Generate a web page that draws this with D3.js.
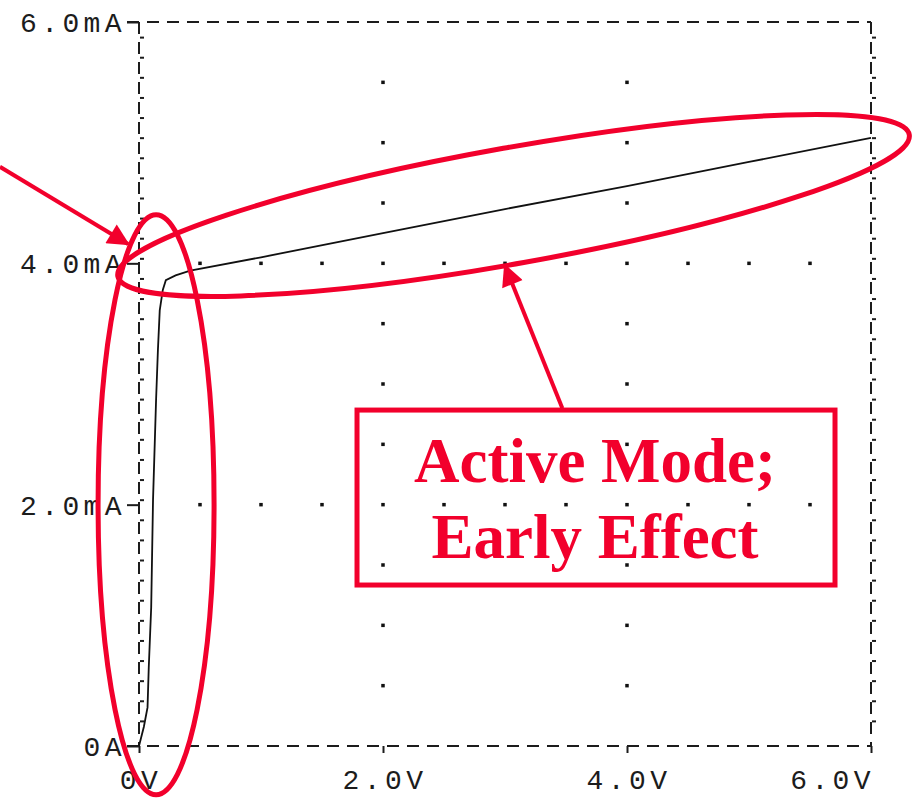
<!DOCTYPE html>
<html>
<head>
<meta charset="utf-8">
<script src="https://cdn.jsdelivr.net/npm/d3@7"></script>
<style>
  body { margin: 0; background: #fff; }
  .lbl { font-family: "Liberation Mono", "DejaVu Sans Mono", monospace; font-size: 28px; fill: #1c1c1c; letter-spacing: 4.4px; }
  .note { font-family: "Liberation Serif", "Times New Roman", serif; font-weight: bold; font-size: 63px; fill: #f2002c; }
</style>
</head>
<body>
<svg id="chart"></svg>
<script>
// transistor output curve, Ic (mA) vs Vce (V)
const vce = [0, 0.04, 0.07, 0.08, 0.10, 0.115, 0.14, 0.155, 0.17, 0.195, 0.22, 0.30, 0.42, 1.0, 2.0, 3.0, 4.0, 5.0, 6.0];
const ic  = [0, 0.16, 0.32, 0.65, 1.15, 2.04, 2.87, 3.28, 3.61, 3.78, 3.86, 3.90, 3.94, 4.05, 4.25, 4.45, 4.64, 4.84, 5.04];

const xTicks = [0, 2, 4, 6];
const xTickLabels = ["0V", "2.0V", "4.0V", "6.0V"];
const yTicks = [0, 2, 4, 6];
const yTickLabels = ["0A", "2.0mA", "4.0mA", "6.0mA"];

const noteLines = ["Active Mode;", "Early Effect"];

const W = 913, H = 798;
const red = "#f2002c";

const svg = d3.select("#chart").attr("width", W).attr("height", H);

const x = d3.scaleLinear().domain([0, 6]).range([139, 871]);
const y = d3.scaleLinear().domain([0, 6]).range([746, 22]);

// dotted grid: dots along the inner major lines
const dots = [];
[2, 4].forEach(v => d3.range(0.5, 6, 0.5).forEach(i => dots.push([v, i])));
[2, 4].forEach(i => d3.range(0.5, 6, 0.5).forEach(v => { if (v !== 2 && v !== 4) dots.push([v, i]); }));
svg.append("g").selectAll("rect").data(dots).join("rect")
  .attr("x", d => x(d[0]) - 1.75).attr("y", d => y(d[1]) - 1.75)
  .attr("width", 3.5).attr("height", 3.5).attr("fill", "#111");

// dashed frame
const frame = svg.append("g").attr("stroke", "#1c1c1c").attr("stroke-width", 2).attr("fill", "none");
frame.append("line").attr("x1", 127).attr("x2", x(6)).attr("y1", y(6)).attr("y2", y(6)).attr("stroke-dasharray", "12,8");
frame.append("line").attr("x1", 127).attr("x2", x(6)).attr("y1", y(0)).attr("y2", y(0)).attr("stroke-dasharray", "12,8");
frame.append("line").attr("x1", x(0)).attr("x2", x(0)).attr("y1", y(6)).attr("y2", y(0)).attr("stroke-dasharray", "12,8");
frame.append("line").attr("x1", x(6)).attr("x2", x(6)).attr("y1", y(6)).attr("y2", y(0)).attr("stroke-dasharray", "12,8");

// minor nubs on the vertical axes
const minor = d3.range(1, 36).map(i => i / 6);
[0, 6].forEach(v => {
  svg.append("g").attr("transform", `translate(${x(v)},0)`)
    .call(d3.axisRight(y).tickValues(minor).tickSize(4).tickFormat(""))
    .call(g => g.select(".domain").remove())
    .call(g => g.selectAll(".tick line").attr("stroke", "#1c1c1c").attr("stroke-width", 2).attr("transform", "translate(1,-5)"));
});

// major ticks
svg.append("g").attr("transform", `translate(${x(0)},0)`)
  .call(d3.axisLeft(y).tickValues(yTicks).tickSize(12).tickFormat(""))
  .call(g => g.select(".domain").remove())
  .call(g => g.selectAll(".tick line").attr("stroke", "#1c1c1c").attr("stroke-width", 2));
svg.append("g").attr("transform", `translate(0,${y(0)})`)
  .call(d3.axisBottom(x).tickValues(xTicks).tickSize(7).tickFormat(""))
  .call(g => g.select(".domain").remove())
  .call(g => g.selectAll(".tick line").attr("stroke", "#1c1c1c").attr("stroke-width", 2));

// tick labels
svg.append("g").selectAll("text").data(yTicks).join("text")
  .attr("class", "lbl").attr("x", 126).attr("y", d => y(d) + 10)
  .attr("text-anchor", "end").text((d, i) => yTickLabels[i]);
svg.append("g").selectAll("text").data(xTicks).join("text")
  .attr("class", "lbl").attr("x", d => d === 6 ? x(d) + 4 : x(d) + 2).attr("y", 789)
  .attr("text-anchor", d => d === 6 ? "end" : "middle").text((d, i) => xTickLabels[i]);

// curve
const pts = vce.map((v, i) => [v, ic[i]]);
svg.append("path").datum(pts)
  .attr("fill", "none").attr("stroke", "#111").attr("stroke-width", 1.8)
  .attr("d", d3.line().x(d => x(d[0])).y(d => y(d[1])));

// annotations
svg.append("defs").append("marker")
  .attr("id", "head").attr("viewBox", "0 0 10 10").attr("refX", 9).attr("refY", 5)
  .attr("markerWidth", 6).attr("markerHeight", 5.5).attr("markerUnits", "strokeWidth").attr("orient", "auto")
  .append("path").attr("d", "M0,0 L10,5 L0,10 Z").attr("fill", red);

const ann = svg.append("g").attr("fill", "none").attr("stroke", red);

// saturation region ellipse
ann.append("ellipse").attr("cx", x(0.14)).attr("cy", y(2.0)).attr("rx", 58).attr("ry", 290).attr("stroke-width", 5);

// active region ellipse
const ecx = x(3.07), ecy = y(4.48);
ann.append("ellipse").attr("cx", 0).attr("cy", 0).attr("rx", 402).attr("ry", 58).attr("stroke-width", 5)
  .attr("transform", `translate(${ecx},${ecy}) rotate(-10.15)`);

// arrows
ann.append("line").attr("x1", x(-1.14)).attr("y1", y(4.80)).attr("x2", x(-0.09)).attr("y2", y(4.16))
  .attr("stroke-width", 4).attr("marker-end", "url(#head)");
ann.append("line").attr("x1", x(3.47)).attr("y1", y(2.8)).attr("x2", x(3.0)).attr("y2", y(3.98))
  .attr("stroke-width", 4).attr("marker-end", "url(#head)");

// text box
ann.append("rect").attr("x", x(1.787)).attr("y", y(2.784))
  .attr("width", x(5.705) - x(1.787)).attr("height", y(1.334) - y(2.784))
  .attr("fill", "#fff").attr("stroke-width", 5);

// dots show through the box in the original
svg.append("g").selectAll("rect").data(dots.filter(d => d[0] >= 1.787 && d[0] <= 5.705 && d[1] >= 1.334 && d[1] <= 2.784))
  .join("rect")
  .attr("x", d => x(d[0]) - 1.75).attr("y", d => y(d[1]) - 1.75)
  .attr("width", 3.5).attr("height", 3.5).attr("fill", "#111");

svg.append("g").selectAll("text").data(noteLines).join("text")
  .attr("class", "note").attr("x", 595).attr("y", (d, i) => 482 + i * 76)
  .attr("text-anchor", "middle").text(d => d);
</script>
</body>
</html>
